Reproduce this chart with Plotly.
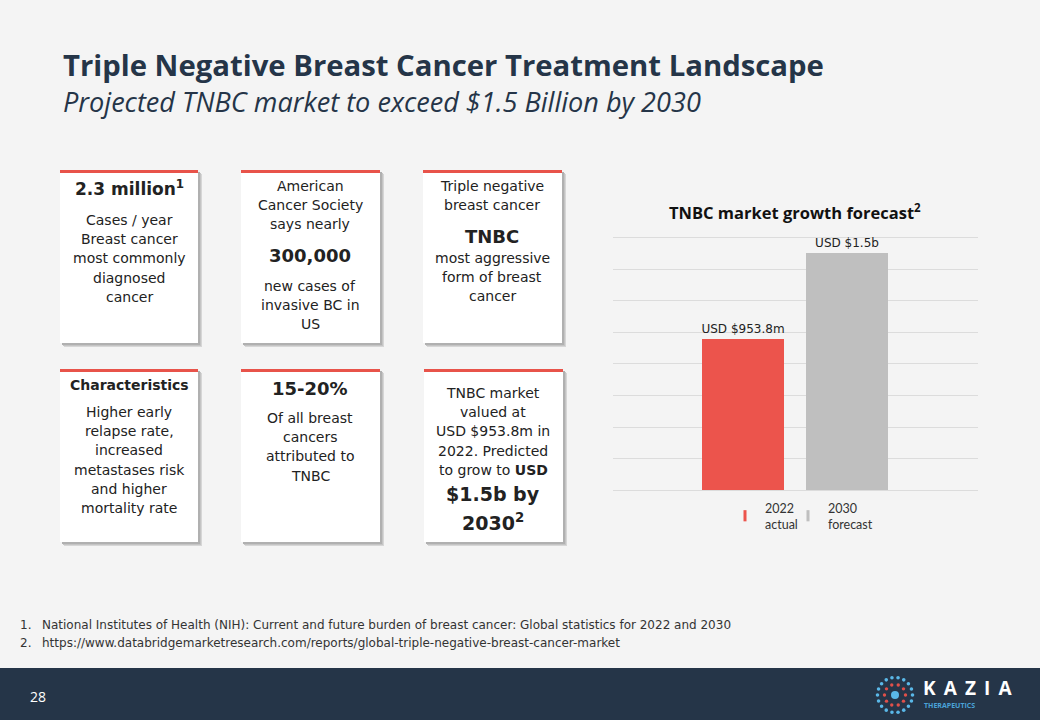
import math
import plotly.graph_objects as go

# chart data
years = ["2022", "2030"]
legend_names = ["2022<br>actual", "2030<br>forecast"]
market_usd_m = [953.8, 1500]
bar_labels = ["USD $953.8m", "USD $1.5b"]
bar_colors = ["#ec544c", "#bfbfbf"]

W, H = 1040, 720
NAVY = "#253548"
RED = "#e8534a"
BODY = "DejaVu Sans"


def px(x):
    return x / W


def py(y):
    return 1 - y / H


fig = go.Figure()

fig.add_trace(go.Bar(
    x=years, y=market_usd_m, width=0.79,
    marker=dict(color=bar_colors, line=dict(width=0)),
    text=bar_labels, textposition="outside", constraintext="none",
    textfont=dict(family=BODY, size=12, color="#222222"),
    cliponaxis=False, showlegend=False, hoverinfo="skip",
))

# legend entries (thin tick markers like the original), one legend box each
for i, (name, col) in enumerate(zip(legend_names, bar_colors)):
    fig.add_trace(go.Scatter(
        x=[None], y=[None], mode="markers", name=name,
        legend="legend" if i == 0 else "legend2",
        marker=dict(symbol="line-ns", size=8, line=dict(width=3, color=col)),
    ))

shapes = []
annotations = []

# slide footer band
shapes.append(dict(type="rect", xref="paper", yref="paper", x0=0, x1=1,
                   y0=py(720), y1=py(668), fillcolor=NAVY, line_width=0, layer="below"))

# cards: (x0, x1, y0, y1)
cards = [
    (60, 198, 170, 343), (241, 380, 170, 343), (423, 562, 170, 343),
    (60, 198, 369, 542), (241, 380, 369, 542), (424, 563, 369, 542),
]
for x0, x1, y0, y1 in cards:
    for off, col in [(4, "#d6d6d6"), (3, "#c4c4c4"), (2, "#b0b0b0")]:
        shapes.append(dict(type="rect", xref="paper", yref="paper",
                           x0=px(x0 + off), x1=px(x1 + off), y0=py(y1 + off), y1=py(y0 + off),
                           fillcolor=col, line_width=0, layer="below"))
    shapes.append(dict(type="rect", xref="paper", yref="paper",
                       x0=px(x0), x1=px(x1), y0=py(y1), y1=py(y0),
                       fillcolor="white", line_width=0, layer="below"))
    shapes.append(dict(type="rect", xref="paper", yref="paper",
                       x0=px(x0), x1=px(x1), y0=py(y0 + 3), y1=py(y0),
                       fillcolor=RED, line_width=0, layer="below"))


def txt(x, y, s, size=14, bold=False, color="#222222", family=BODY, anchor="center", italic=False):
    if bold:
        s = "<b>" + s + "</b>"
    if italic:
        s = "<i>" + s + "</i>"
    annotations.append(dict(x=px(x), y=py(y), xref="paper", yref="paper", text=s,
                            showarrow=False, xanchor=anchor, yanchor="middle",
                            font=dict(family=family, size=size, color=color)))


def lines(x, y0, items, step=19.2, size=14):
    for i, s in enumerate(items):
        txt(x, y0 + i * step, s, size=size)


# title
txt(61, 65, "Triple Negative Breast Cancer Treatment Landscape", size=29.3, bold=True,
    color=NAVY, family="Open Sans", anchor="left")
txt(61, 102, "Projected TNBC market to exceed $1.5 Billion by 2030", size=27.1, italic=True,
    color=NAVY, family="Open Sans", anchor="left")

# card 1
txt(129, 188, "2.3 million<sup>1</sup>", size=17, bold=True)
lines(129, 220, ["Cases / year", "Breast cancer", "most commonly", "diagnosed", "cancer"])
# card 2
lines(310, 186, ["American", "Cancer Society", "says nearly"])
txt(310, 255, "300,000", size=18, bold=True)
lines(310, 286, ["new cases of", "invasive BC in", "US"])
# card 3
lines(492, 186, ["Triple negative", "breast cancer"])
txt(492, 237, "TNBC", size=18, bold=True)
lines(492, 258, ["most aggressive", "form of breast", "cancer"])
# card 4
txt(129, 385, "Characteristics", size=14, bold=True)
lines(129, 412, ["Higher early", "relapse rate,", "increased", "metastases risk",
                 "and higher", "mortality rate"])
# card 5
txt(310, 388, "15-20%", size=18, bold=True)
lines(310, 418, ["Of all breast", "cancers", "attributed to", "TNBC"])
# card 6
lines(493, 393, ["TNBC market", "valued at", "USD $953.8m in", "2022. Predicted",
                 "to grow to <b>USD</b>"])
txt(493, 494, "$1.5b by", size=19, bold=True)
txt(493, 522, "2030<sup>2</sup>", size=19, bold=True)

# footnotes
FN = 12
txt(18, 625, "1.", size=FN, color="#333333", anchor="left")
txt(40, 625, "National Institutes of Health (NIH): Current and future burden of breast cancer: "
    "Global statistics for 2022 and 2030", size=FN, color="#333333", anchor="left")
txt(18, 643, "2.", size=FN, color="#333333", anchor="left")
txt(40, 643, "https://www.databridgemarketresearch.com/reports/global-triple-negative-breast-cancer-market",
    size=FN, color="#333333", anchor="left")

# page number
txt(28, 696, "28", size=14, color="white", family="Open Sans", anchor="left")

# logo
cx, cy = 895, 695
for n, r, dot, col in [(18, 17.5, 1.8, "#5ab8e8"), (10, 10.5, 1.7, "#e0504a")]:
    for k in range(n):
        a = 2 * math.pi * k / n
        dx, dy = cx + r * math.cos(a), cy + r * math.sin(a)
        shapes.append(dict(type="circle", xref="paper", yref="paper",
                           x0=px(dx - dot), x1=px(dx + dot), y0=py(dy + dot), y1=py(dy - dot),
                           fillcolor=col, line_width=0))
shapes.append(dict(type="circle", xref="paper", yref="paper",
                   x0=px(cx - 4), x1=px(cx + 4), y0=py(cy + 4), y1=py(cy - 4),
                   fillcolor="#5ab8e8", line_width=0))
txt(921, 688, "\u2009 ".join("KAZIA"), size=19, bold=True, color="white", family="Open Sans", anchor="left")
txt(922, 705, "THERAPEUTICS", size=7, bold=True, color="#4aa3d8", family="Open Sans", anchor="left")

# chart title
txt(795, 212, "TNBC market growth forecast<sup>2</sup>", size=16.5, bold=True,
    color="#111111", family="Open Sans")

legend_style = dict(orientation="h", xanchor="left", y=py(493), yanchor="top",
                    bgcolor="rgba(0,0,0,0)", font=dict(family="Lato", size=12.5, color="#333333"),
                    itemwidth=30, valign="middle")

fig.update_layout(
    width=W, height=H,
    margin=dict(l=0, r=0, t=0, b=0),
    paper_bgcolor="#f4f4f4", plot_bgcolor="#f4f4f4",
    shapes=shapes, annotations=annotations,
    bargap=0,
    xaxis=dict(domain=[px(613), px(978)], range=[-1.25, 2.26], showticklabels=False,
               showgrid=False, zeroline=False, showline=False, fixedrange=True),
    yaxis=dict(domain=[py(490), py(490 - 252 * 1610 / 1600)], range=[0, 1610], dtick=200,
               showticklabels=False, showgrid=True, gridcolor="#dcdcdc", gridwidth=1,
               zeroline=True, zerolinecolor="#dcdcdc", zerolinewidth=1, showline=False,
               fixedrange=True),
    legend=dict(x=px(725), **legend_style),
    legend2=dict(x=px(788), **legend_style),
    showlegend=True,
)

fig.write_html("out.html", config={"displayModeBar": False},
               post_script="document.body.style.margin='0';document.body.style.overflow='hidden';")
